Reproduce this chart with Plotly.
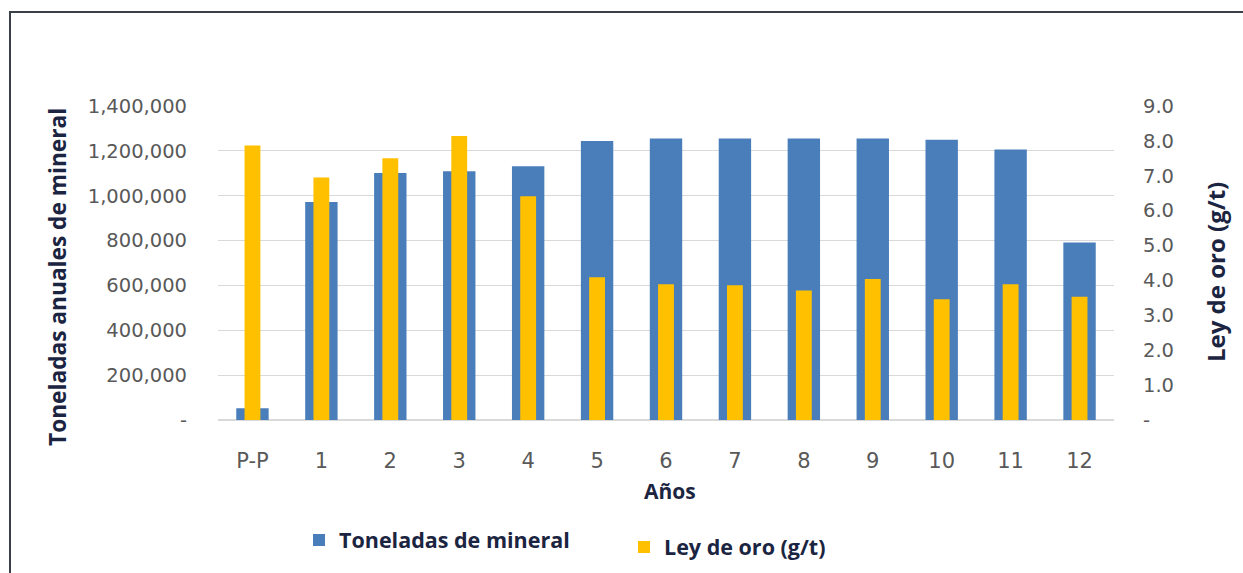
import plotly.graph_objects as go

# Producción anual: categorías, tonelaje y ley de oro
anios = ["P-P", "1", "2", "3", "4", "5", "6", "7", "8", "9", "10", "11", "12"]
toneladas = [52000, 972000, 1101000, 1109000, 1131000, 1244000, 1255000,
             1255000, 1255000, 1255000, 1250000, 1206000, 791000]
ley_oro = [7.87, 6.95, 7.50, 8.14, 6.41, 4.09, 3.89, 3.86, 3.71, 4.04, 3.46, 3.89, 3.53]

ton_ticks = [0, 200000, 400000, 600000, 800000, 1000000, 1200000, 1400000]
ton_labels = ["-", "200,000", "400,000", "600,000", "800,000", "1,000,000", "1,200,000", "1,400,000"]
ley_ticks = [0, 1, 2, 3, 4, 5, 6, 7, 8, 9]
ley_labels = ["-", "1.0", "2.0", "3.0", "4.0", "5.0", "6.0", "7.0", "8.0", "9.0"]

AZUL = "#4a7ebb"
ORO = "#ffc000"
GRIS = "#595959"
TITULO = "#1b2440"
TICK_FONT = "DejaVu Sans"
BOLD_FONT = "Open Sans"

fig = go.Figure()
fig.add_trace(go.Bar(x=anios, y=toneladas, name="Toneladas de mineral",
                     marker=dict(color=AZUL, line=dict(width=0)), width=0.47,
                     yaxis="y", legend="legend", showlegend=True))
fig.add_trace(go.Bar(x=anios, y=ley_oro, name="Ley de oro (g/t)",
                     marker=dict(color=ORO, line=dict(width=0)), width=0.23,
                     yaxis="y2", legend="legend2", showlegend=True))

L, R, T, B = 218, 129, 106, 153
W, H = 1243, 573
pw, ph = W - L - R, H - T - B

def px_x(x):
    return (x - L) / pw

def px_y(y):
    return (H - B - y) / ph

legend_font = dict(size=21.5, color=TITULO, family=BOLD_FONT, weight="bold")

fig.update_layout(
    width=W, height=H,
    margin=dict(l=L, r=R, t=T, b=B, autoexpand=False),
    paper_bgcolor="white", plot_bgcolor="white",
    barmode="overlay",
    showlegend=True,
    font=dict(family=TICK_FONT, color=GRIS),
    xaxis=dict(tickfont=dict(size=21, color=GRIS), showgrid=False, showline=False,
               ticks="", ticklabelstandoff=26),
    yaxis=dict(range=[0, 1400000], tickvals=ton_ticks, ticktext=ton_labels,
               tickfont=dict(size=19.5, color=GRIS), showgrid=True, gridcolor="#d9d9d9",
               gridwidth=1, zeroline=True, zerolinecolor="#d9d9d9", showline=False,
               ticks="", ticklabelstandoff=30),
    yaxis2=dict(range=[0, 9], tickvals=ley_ticks, ticktext=ley_labels, overlaying="y",
                side="right", tickfont=dict(size=19.5, color=GRIS), showgrid=False,
                zeroline=False, showline=False, ticks="", ticklabelstandoff=28),
    legend=dict(orientation="h", x=px_x(299), y=px_y(540), xanchor="left", yanchor="middle",
                font=legend_font, visible=True),
    legend2=dict(orientation="h", x=px_x(624), y=px_y(547), xanchor="left", yanchor="middle",
                 font=legend_font, visible=True),
    shapes=[dict(type="rect", xref="paper", yref="paper",
                 x0=px_x(10), x1=px_x(1300), y0=px_y(620), y1=px_y(12),
                 line=dict(color="#3a4047", width=2), fillcolor="rgba(0,0,0,0)")],
    annotations=[
        dict(text="Toneladas anuales de mineral", xref="paper", yref="paper",
             x=px_x(57), y=px_y(277), xanchor="center", yanchor="middle",
             textangle=-90, showarrow=False,
             font=dict(size=22.7, color=TITULO, family=BOLD_FONT, weight="bold")),
        dict(text="Ley de oro (g/t)", xref="paper", yref="paper",
             x=px_x(1215), y=px_y(272), xanchor="center", yanchor="middle",
             textangle=-90, showarrow=False,
             font=dict(size=24, color=TITULO, family=BOLD_FONT, weight="bold")),
        dict(text="Años", xref="paper", yref="paper",
             x=px_x(670), y=px_y(491), xanchor="center", yanchor="middle",
             showarrow=False, font=dict(size=21, color=TITULO, family=BOLD_FONT, weight="bold")),
    ],
)

fig.write_html("out.html")
